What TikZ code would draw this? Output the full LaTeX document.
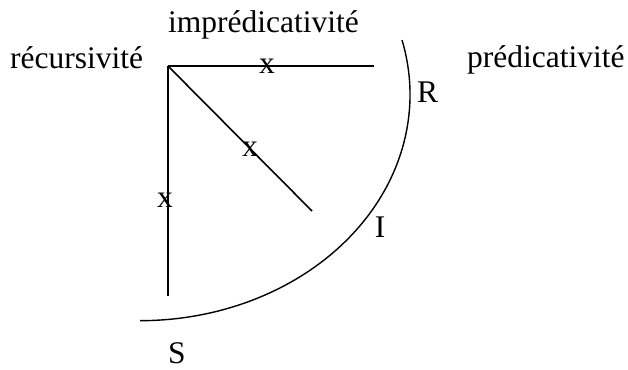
\documentclass[tikz,border=0pt]{standalone}
\usepackage{fontspec}
\setmainfont{Liberation Serif}
\begin{document}
\begin{tikzpicture}[x=1pt,y=-1pt,
  ln/.style={line width=1.6pt},
  lbl/.style={font=\fontsize{31.5}{36}\selectfont, inner sep=0pt, anchor=base}]
\useasboundingbox (0,0) rectangle (628,369);
% geometry
\coordinate (c) at (168,66);
\coordinate (h) at (374,66);
\coordinate (v) at (168,296);
\coordinate (d) at (312,211);
\coordinate (arcS) at (402,40);
\draw[ln] (c) -- (h);
\draw[ln] (c) -- (v);
\draw[ln] (c) -- (d);
\draw[line width=1.4pt] (arcS) arc[start angle=14, end angle=-90, x radius=270pt, y radius=226pt];
% labels
\node[lbl, anchor=base west] (rec) at (10,68) {récursivité};
\node[lbl, anchor=base west] (imp) at (168,33) {imprédicativité};
\node[lbl, anchor=base west] (pred) at (467,67) {prédicativité};
\node[lbl, anchor=base west] (R) at (417,102) {R};
\node[lbl] (I) at (380,237) {I};
\node[lbl] (S) at (177,363) {S};
\node[lbl] (x1) at (267,73) {x};
\node[lbl] (x2) at (250,156) {x};
\node[lbl] (x3) at (165,207) {x};
\end{tikzpicture}
\end{document}
